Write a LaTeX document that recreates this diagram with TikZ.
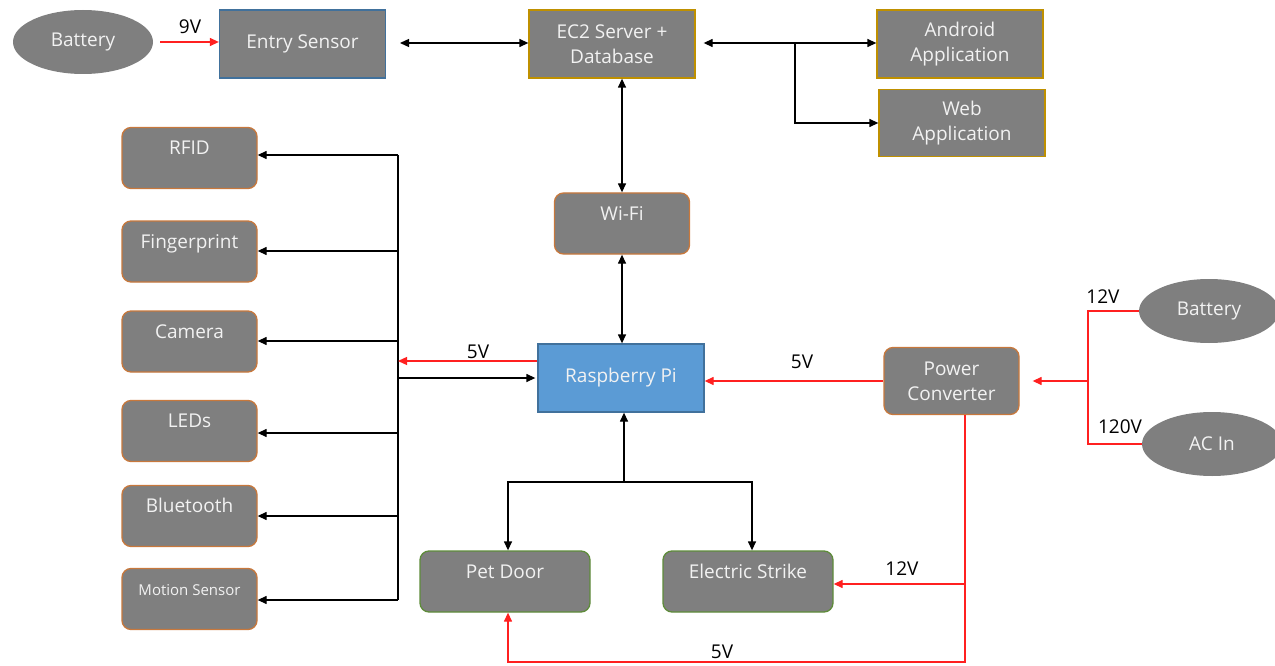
\documentclass[tikz,border=0pt]{standalone}
\usepackage{fontspec}
\setmainfont{Open Sans}
\usetikzlibrary{arrows.meta,shapes.geometric}
\definecolor{boxgray}{HTML}{7F7F7F}
\definecolor{txt}{HTML}{F2F2F2}
\definecolor{borange}{HTML}{C8783C}
\definecolor{bgold}{HTML}{BF9000}
\definecolor{bgreen}{HTML}{5E8C3A}
\definecolor{bblue}{HTML}{41719C}
\definecolor{pifill}{HTML}{5B9BD5}
\definecolor{wred}{HTML}{FF2020}
\begin{document}
\begin{tikzpicture}[x=1pt,y=-1pt,
  base/.style={draw, fill=boxgray, text=txt, font=\fontsize{19}{25}\selectfont,
    line width=1.3pt, inner sep=0pt, align=center},
  sqbox/.style={base, minimum width=166pt, minimum height=68pt},
  rbox/.style={base, draw=borange, rounded corners=9pt, minimum width=135pt, minimum height=61pt},
  topt/.style={text height=27pt, text depth=34pt},
  ell/.style={ellipse, fill=boxgray, draw=none, text=txt, font=\fontsize{19}{22}\selectfont,
    minimum width=140pt, minimum height=64pt, inner sep=0pt},
  lbl/.style={font=\fontsize{19}{22}\selectfont, text=black, inner sep=0pt},
  blk/.style={draw=black, line width=1.3pt},
  arr/.style={blk, -{Triangle[length=9pt,width=8pt]}},
  dbl/.style={blk, {Triangle[length=9pt,width=8pt]}-{Triangle[length=9pt,width=8pt]}},
  rline/.style={draw=wred, line width=1.3pt},
  rarr/.style={rline, -{Triangle[length=9pt,width=8pt]}}
]
\useasboundingbox (0,0) rectangle (1275,666);

% top row
\node[ell] (bat1) at (83,42) {Battery};
\node[sqbox, draw=bblue] (entry) at (302.5,44) {Entry Sensor};
\node[sqbox, draw=bgold] (ec2) at (612,44) {EC2 Server +\\Database};
\node[sqbox, draw=bgold] (android) at (960,44) {Android\\Application};
\node[sqbox, draw=bgold, minimum height=67pt] (web) at (962,123) {Web\\Application};

% center column
\node[rbox, topt] (wifi) at (622,223.5) {Wi-Fi};
\node[sqbox, draw=bblue, fill=pifill] (rpi) at (621,378) {Raspberry Pi};

% left column
\node[rbox, topt] (rfid) at (189.5,158) {RFID};
\node[rbox, topt] (finger) at (189.5,251.5) {Fingerprint};
\node[rbox, topt] (camera) at (189.5,341.5) {Camera};
\node[rbox, topt] (leds) at (189.5,431) {LEDs};
\node[rbox, topt] (bt) at (189.5,516) {Bluetooth};
\node[rbox, topt, font=\fontsize{15}{18}\selectfont] (motion) at (189.5,599) {Motion Sensor};

% bottom
\node[rbox, topt, draw=bgreen, minimum width=170pt] (pet) at (505,581.5) {Pet Door};
\node[rbox, topt, draw=bgreen, minimum width=170pt] (strike) at (748,581.5) {Electric Strike};

% power
\node[rbox, minimum height=67pt] (pc) at (951.5,381) {Power\\Converter};
\node[ell] (bat2) at (1209,311) {Battery};
\node[ell] (acin) at (1212,444) {AC In};

% labels
\node[lbl] (l9) at (190,27) {9V};
\node[lbl] (l5a) at (478,352) {5V};
\node[lbl] (l5b) at (802,362) {5V};
\node[lbl] (l12a) at (902,569) {12V};
\node[lbl] (l5c) at (722,652) {5V};
\node[lbl] (l12b) at (1103,297) {12V};
\node[lbl] (l120) at (1120,427) {120V};

% coordinates
\coordinate (b1) at (398,155);
\coordinate (b2) at (398,251);
\coordinate (b3) at (398,341);
\coordinate (b4) at (398,433);
\coordinate (b5) at (398,516);
\coordinate (b6) at (398,600);
\coordinate (r5) at (398,361);
\coordinate (b7) at (398,378);
\coordinate (j1) at (795,43);
\coordinate (j2) at (624,482);
\coordinate (d1) at (965,662);
\coordinate (d2) at (965,584);
\coordinate (j3) at (1088,381);
\coordinate (e1) at (400,43);

% connectors top
\draw[rarr, shorten <=7pt] (bat1.east) -- (entry.west |- bat1.east);
\draw[dbl] (e1) -- (ec2.west |- e1);
\draw[dbl, shorten <=8pt] (ec2.east |- j1) -- (android.west |- j1);
\draw[arr] (j1) |- (web.west);
\draw[dbl] (ec2.south -| wifi) -- (wifi);
\draw[dbl] (wifi) -- (wifi |- rpi.north);

% bus
\draw[blk] (b1) -- (b6);
\draw[arr] (b1) -- (rfid.east |- b1);
\draw[arr] (b2) -- (finger.east |- b2);
\draw[arr] (b3) -- (camera.east |- b3);
\draw[arr] (b4) -- (leds.east |- b4);
\draw[arr] (b5) -- (bt.east |- b5);
\draw[arr] (b6) -- (motion.east |- b6);
\draw[rarr] (rpi.west |- r5) -- (r5);
\draw[arr, shorten >=2pt] (b7) -- (rpi.west |- b7);

% rpi bottom
\draw[arr] (j2) -- (rpi.south -| j2);
\draw[arr] (j2) -| ([xshift=3pt]pet.north);
\draw[arr] (j2) -| ([xshift=4pt]strike.north);

% power
\draw[rarr] (pc.west) -- (rpi.east |- pc.west);
\draw[rarr] (pc.south -| d1) -- (d1) -| ([xshift=3pt]pet.south);
\draw[rarr] (d2) -- (strike.east |- d2);
\draw[rline] (bat2.west) -| (j3) |- (acin.west);
\draw[rarr, shorten >=13pt] (j3) -- (pc.east |- j3);
\end{tikzpicture}
\end{document}
